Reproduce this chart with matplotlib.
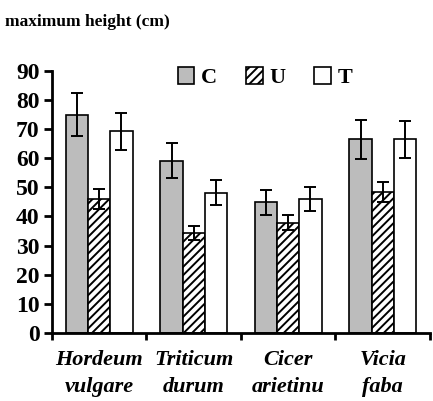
import numpy as np
import matplotlib
matplotlib.use("Agg")
import matplotlib.pyplot as plt

plt.rcParams["font.family"] = ["Liberation Serif", "DejaVu Serif"]
plt.rcParams["hatch.linewidth"] = 1.4

# data
species = ["Hordeum\nvulgare", "Triticum\ndurum", "Cicer\narietinu", "Vicia\nfaba"]
c_mean = [75.0, 59.2, 44.8, 66.5]
c_err = [7.5, 6.0, 4.3, 6.7]
u_mean = [46.0, 34.2, 37.8, 48.5]
u_err = [3.5, 2.4, 2.6, 3.4]
t_mean = [69.2, 48.2, 46.0, 66.5]
t_err = [6.3, 4.4, 4.2, 6.3]

fig = plt.figure(figsize=(4.33, 4.01), dpi=100)
ax = fig.add_axes([0.12, 0.17, 0.873, 0.653])

x = np.arange(len(species))
w = 0.235
ekw = dict(elinewidth=1.4, capthick=1.4, capsize=4.5, ecolor="black")

ax.bar(x - w, c_mean, w, yerr=c_err, color="#bcbcbc", edgecolor="black",
       linewidth=1.2, label="C", error_kw=ekw)
ax.bar(x, u_mean, w, yerr=u_err, color="white", edgecolor="black",
       hatch="////", linewidth=1.2, label="U", error_kw=ekw)
ax.bar(x + w, t_mean, w, yerr=t_err, color="white", edgecolor="black",
       linewidth=1.2, label="T", error_kw=ekw)

ax.set_xlim(-0.5, len(species) - 0.5)
ax.set_ylim(0, 90)
ax.set_yticks(range(0, 91, 10))
ax.set_xticks(np.arange(len(species) + 1) - 0.5)
ax.set_xticklabels([])
for i, name in enumerate(species):
    ax.text(i, -6, name, ha="center", va="top", fontsize=16,
            fontweight="bold", fontstyle="italic", linespacing=1.45)

for side in ["top", "right"]:
    ax.spines[side].set_visible(False)
for side in ["left", "bottom"]:
    ax.spines[side].set_linewidth(2)
ax.tick_params(axis="y", length=6, width=2, labelsize=17, pad=3)
ax.tick_params(axis="x", length=5, width=2)
for lab in ax.get_yticklabels():
    lab.set_fontweight("bold")

leg = ax.legend(ncol=3, loc="upper left", bbox_to_anchor=(0.28, 1.09),
                frameon=False, fontsize=16, handlelength=0.75, handleheight=0.75,
                handletextpad=0.3, columnspacing=1.3)
for t in leg.get_texts():
    t.set_fontweight("bold")

fig.text(0.012, 0.945, "maximum height (cm)", fontsize=12.5, fontweight="bold",
         ha="left", va="center")

fig.savefig("out.png", dpi=100)
